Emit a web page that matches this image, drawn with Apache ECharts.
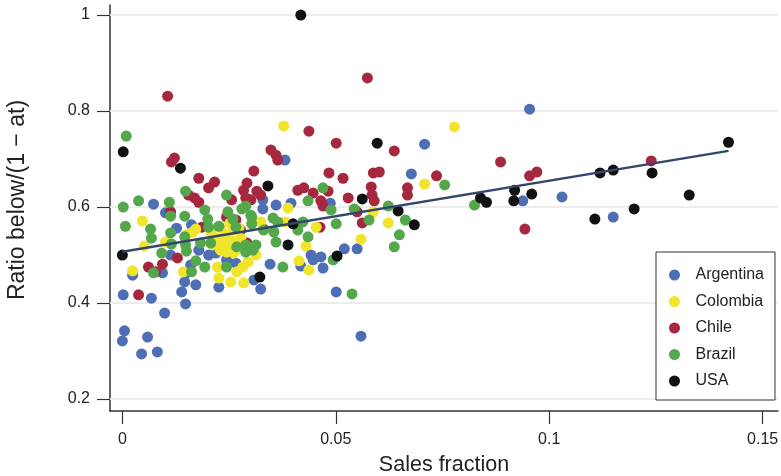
<!DOCTYPE html>
<html lang="en">
<head>
    <meta charset="utf-8">
    <title>Ratio below vs sales fraction</title>
    <script src="https://cdn.jsdelivr.net/npm/echarts@6/dist/echarts.min.js"></script>
    <style>
        html, body { margin: 0; padding: 0; background: #fff; }
        #chart { width: 781px; height: 476px; }
    </style>
</head>
<body>
<div id="chart"></div>
<script type="text/javascript">
    // country data: [sales fraction, ratio below]
    var argentina = [
        [0.0381,0.698],[0.0708,0.731],[0.0677,0.669],[0.0954,0.804],[0.0938,0.613],[0.1030,0.621],[0.1150,0.579],
        [0.0073,0.606],[0.0101,0.588],[0.0127,0.556],[0.0162,0.563],[0.0024,0.458],[0.0002,0.417],[0.0068,0.410],
        [0.0099,0.379],[0.0148,0.398],[0.0005,0.342],[0.0000,0.321],[0.0059,0.329],[0.0045,0.294],[0.0082,0.298],
        [0.0139,0.423],[0.0146,0.444],[0.0172,0.438],[0.0150,0.463],[0.0160,0.479],[0.0179,0.510],[0.0094,0.463],
        [0.0113,0.500],[0.0202,0.500],[0.0219,0.504],[0.0244,0.490],[0.0266,0.483],[0.0226,0.433],[0.0346,0.481],
        [0.0418,0.477],[0.0442,0.500],[0.0447,0.490],[0.0465,0.496],[0.0470,0.473],[0.0520,0.513],[0.0550,0.513],
        [0.0308,0.448],[0.0324,0.429],[0.0501,0.423],[0.0559,0.331],[0.0329,0.615],[0.0360,0.604],[0.0395,0.608],
        [0.0329,0.596],[0.0487,0.608]
    ];
    var colombia = [
        [0.0378,0.769],[0.0778,0.767],[0.0708,0.648],[0.0588,0.590],[0.0623,0.567],[0.0559,0.533],[0.0430,0.519],
        [0.0414,0.488],[0.0437,0.469],[0.0388,0.598],[0.0381,0.569],[0.0324,0.569],[0.0454,0.558],[0.0313,0.500],
        [0.0047,0.571],[0.0052,0.519],[0.0101,0.527],[0.0024,0.467],[0.0143,0.465],[0.0165,0.548],[0.0172,0.554],
        [0.0150,0.542],[0.0223,0.475],[0.0226,0.452],[0.0254,0.444],[0.0284,0.442],[0.0282,0.475],[0.0294,0.485],
        [0.0261,0.504],[0.0230,0.510],[0.0268,0.465],[0.0207,0.548],[0.0219,0.535],[0.0230,0.556],[0.0235,0.527],
        [0.0242,0.542],[0.0249,0.521],[0.0254,0.531],[0.0259,0.552],[0.0266,0.510],[0.0244,0.506],[0.0277,0.535],
        [0.0273,0.556],[0.0212,0.521],[0.0252,0.567]
    ];
    var chile = [
        [0.0106,0.831],[0.0115,0.694],[0.0122,0.702],[0.0179,0.660],[0.0216,0.652],[0.0202,0.640],[0.0155,0.625],
        [0.0169,0.619],[0.0179,0.610],[0.0113,0.590],[0.0186,0.558],[0.0244,0.579],[0.0266,0.573],[0.0277,0.552],
        [0.0256,0.615],[0.0289,0.619],[0.0284,0.635],[0.0292,0.650],[0.0315,0.633],[0.0308,0.675],[0.0348,0.719],
        [0.0360,0.708],[0.0364,0.698],[0.0324,0.625],[0.0301,0.615],[0.0331,0.554],[0.0437,0.758],[0.0501,0.733],
        [0.0574,0.869],[0.0484,0.671],[0.0517,0.660],[0.0588,0.671],[0.0602,0.673],[0.0411,0.635],[0.0425,0.640],
        [0.0447,0.629],[0.0482,0.633],[0.0465,0.613],[0.0470,0.602],[0.0529,0.619],[0.0583,0.642],[0.0585,0.625],
        [0.0590,0.613],[0.0550,0.590],[0.0562,0.567],[0.0463,0.558],[0.0637,0.717],[0.0736,0.665],[0.0668,0.640],
        [0.0668,0.625],[0.0886,0.694],[0.0954,0.665],[0.0971,0.673],[0.0943,0.554],[0.1239,0.696],[0.0061,0.475],
        [0.0094,0.481],[0.0129,0.494],[0.0078,0.465],[0.0038,0.417],[0.0292,0.525]
    ];
    var brazil = [
        [0.0009,0.748],[0.0002,0.600],[0.0038,0.613],[0.0110,0.610],[0.0148,0.633],[0.0007,0.560],[0.0066,0.554],
        [0.0068,0.535],[0.0113,0.581],[0.0113,0.546],[0.0115,0.523],[0.0146,0.581],[0.0146,0.538],[0.0193,0.594],
        [0.0200,0.575],[0.0202,0.558],[0.0226,0.560],[0.0244,0.625],[0.0247,0.590],[0.0259,0.575],[0.0266,0.558],
        [0.0280,0.596],[0.0289,0.602],[0.0303,0.579],[0.0303,0.565],[0.0148,0.521],[0.0207,0.525],[0.0289,0.521],
        [0.0313,0.521],[0.0092,0.504],[0.0073,0.463],[0.0150,0.508],[0.0162,0.465],[0.0172,0.488],[0.0193,0.475],
        [0.0183,0.525],[0.0244,0.475],[0.0268,0.517],[0.0289,0.506],[0.0470,0.640],[0.0435,0.613],[0.0489,0.594],
        [0.0543,0.596],[0.0578,0.573],[0.0623,0.602],[0.0353,0.577],[0.0364,0.569],[0.0331,0.552],[0.0355,0.548],
        [0.0423,0.569],[0.0411,0.552],[0.0435,0.538],[0.0501,0.565],[0.0360,0.527],[0.0755,0.646],[0.0663,0.573],
        [0.0649,0.542],[0.0637,0.517],[0.0376,0.475],[0.0494,0.490],[0.0538,0.419],[0.0825,0.604],[0.0306,0.510],
        [0.0301,0.583]
    ];
    var usa = [
        [0.0418,1.000],[0.0002,0.715],[0.0136,0.681],[0.0000,0.500],[0.0341,0.644],[0.0597,0.733],[0.0322,0.454],
        [0.0503,0.498],[0.0562,0.617],[0.0400,0.565],[0.0646,0.592],[0.0388,0.521],[0.0684,0.563],[0.0839,0.619],
        [0.0853,0.610],[0.0919,0.635],[0.0917,0.613],[0.0959,0.627],[0.1119,0.671],[0.1150,0.677],[0.1241,0.671],
        [0.1107,0.575],[0.1199,0.596],[0.1328,0.625],[0.1420,0.735]
    ];
    // fitted line end points
    var fitX = [0, 0.142];
    var fitY = [0.507, 0.717];
    // tick values
    var xTicks = [0, 0.05, 0.1, 0.15];
    var yTicks = [0.2, 0.4, 0.6, 0.8, 1];
    var countries = ['Argentina', 'Colombia', 'Chile', 'Brazil', 'USA'];

    var chart = echarts.init(document.getElementById('chart'), null, {renderer: 'canvas'});

    function pts(name, data, color) {
        return {
            name: name,
            type: 'scatter',
            data: data,
            symbol: 'circle',
            symbolSize: 11,
            itemStyle: { color: color, opacity: 1 },
            z: 2
        };
    }

    var fitData = [];
    for (var i = 0; i < fitX.length; i++) {
        fitData.push([fitX[i], fitY[i]]);
    }
    var gridLines = [];
    for (var j = 0; j < yTicks.length; j++) {
        gridLines.push({ yAxis: yTicks[j] });
    }

    var option = {
        animation: false,
        textStyle: { fontFamily: 'Liberation Sans' },
        grid: { left: 110, right: 3, top: 5, bottom: 65, containLabel: false, outerBoundsMode: 'none' },
        legend: {
            data: countries,
            orient: 'vertical',
            left: 656,
            top: 252,
            z: 20,
            padding: [15, 11, 11, 13],
            itemWidth: 32,
            itemHeight: 11,
            itemGap: 10.5,
            icon: 'circle',
            borderColor: '#333',
            borderWidth: 1,
            backgroundColor: '#fff',
            textStyle: { fontFamily: 'Liberation Sans', fontSize: 16, color: '#222' }
        },
        xAxis: {
            type: 'value',
            min: -0.0029,
            max: 0.1536,
            name: 'Sales fraction',
            nameLocation: 'middle',
            nameGap: 43,
            nameTextStyle: { fontFamily: 'Liberation Sans', fontSize: 21.5, color: '#222' },
            axisLine: { show: true, onZero: false, lineStyle: { color: '#333', width: 1.5 } },
            axisTick: { show: true, length: 13, customValues: xTicks, lineStyle: { color: '#333', width: 1.2 } },
            axisLabel: {
                customValues: xTicks, margin: 21,
                fontFamily: 'Liberation Sans', fontSize: 16, color: '#222',
                formatter: function (v) { return String(v); }
            },
            splitLine: { show: false }
        },
        yAxis: {
            type: 'value',
            min: 0.175,
            max: 1.021,
            name: 'Ratio below/(1 \u2212 at)',
            nameLocation: 'middle',
            nameGap: 81,
            nameTextStyle: { fontFamily: 'Liberation Sans', fontSize: 23, color: '#222', padding: [0, 0, 0, 16] },
            axisLine: { show: true, onZero: false, lineStyle: { color: '#333', width: 1.5 } },
            axisTick: { show: true, length: 13, customValues: yTicks, lineStyle: { color: '#333', width: 1.2 } },
            axisLabel: {
                customValues: yTicks, margin: 20,
                fontFamily: 'Liberation Sans', fontSize: 16, color: '#222',
                formatter: function (v) { return String(v); }
            },
            splitLine: { show: false }
        },
        series: [
            {
                // light horizontal grid
                name: 'grid',
                type: 'line',
                data: [],
                silent: true,
                z: 1,
                markLine: {
                    silent: true,
                    symbol: 'none',
                    z: 1,
                    label: { show: false },
                    lineStyle: { color: '#ececec', width: 2, type: 'solid' },
                    data: gridLines
                }
            },
            pts('Argentina', argentina, '#4e6eb6'),
            pts('Chile', chile, '#a6283f'),
            pts('Colombia', colombia, '#f1e52c'),
            pts('Brazil', brazil, '#54a84b'),
            pts('USA', usa, '#111111'),
            {
                name: 'fit',
                type: 'line',
                data: fitData,
                symbol: 'none',
                lineStyle: { color: '#34466b', width: 2.5 },
                z: 3
            }
        ]
    };
    chart.setOption(option);
</script>
</body>
</html>
